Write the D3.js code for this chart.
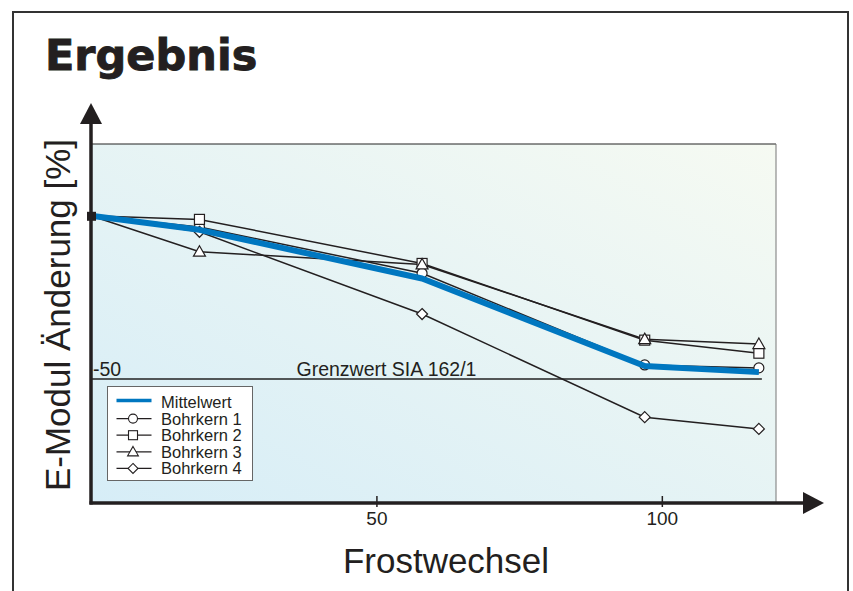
<!DOCTYPE html>
<html>
<head>
<meta charset="utf-8">
<script src="https://cdn.jsdelivr.net/npm/d3@7"></script>
<style>
  body { margin: 0; background: #fff; }
  svg text { fill: #231f20; }
</style>
</head>
<body>
<div id="chart"></div>
<script>
// Frostwechsel (x) and E-Modul change in % per core
const cycles = [0, 19, 58, 97, 117];
const mittelwert = [0, -4.3, -19.2, -46.0, -47.9];
const bohrkern1 = [0, -3.4, -17.6, -45.7, -46.6];
const bohrkern2 = [0, -1.1, -14.6, -38.1, -42.1];
const bohrkern3 = [0, -11.0, -14.9, -37.8, -39.3];
const bohrkern4 = [0, -4.9, -30.1, -61.7, -65.3];
const seriesNames = ["Bohrkern 1", "Bohrkern 2", "Bohrkern 3", "Bohrkern 4"];
const seriesShapes = ["circle", "square", "triangle", "diamond"];
const xTicks = [50, 100];
const grenzwert = -50;

const width = 853, height = 591;
const margin = {top: 144, right: 77, bottom: 88, left: 91};

const svg = d3.select("#chart").append("svg")
    .attr("width", width)
    .attr("height", height)
    .style("font-family", "'Liberation Sans', Arial, sans-serif");

const x = d3.scaleLinear().domain([0, 120]).range([margin.left, width - margin.right]);
const y = d3.scaleLinear().domain([-88, 22]).range([height - margin.bottom, margin.top]);

// outer frame (open at the bottom)
svg.append("path")
    .attr("d", `M13,${height} L13,12 L848,12 L848,${height}`)
    .attr("fill", "none")
    .attr("stroke", "#333")
    .attr("stroke-width", 2);

svg.append("text")
    .attr("x", 45).attr("y", 70)
    .style("font-family", "'DejaVu Sans', sans-serif")
    .style("font-weight", "bold")
    .style("font-size", "43px")
    .attr("stroke", "#231f20")
    .attr("stroke-width", 0.9)
    .text("Ergebnis");

// plot background
const defs = svg.append("defs");
const grad = defs.append("linearGradient")
    .attr("id", "bg").attr("x1", 0).attr("y1", 1).attr("x2", 1).attr("y2", 0);
grad.append("stop").attr("offset", "0%").attr("stop-color", "#d6edf7");
grad.append("stop").attr("offset", "100%").attr("stop-color", "#f6faf2");

svg.append("rect")
    .attr("x", x(0)).attr("y", y(22))
    .attr("width", x(120) - x(0))
    .attr("height", y(-88) - y(22))
    .attr("fill", "url(#bg)");
svg.append("line")
    .attr("x1", x(0)).attr("x2", x(120)).attr("y1", y(22)).attr("y2", y(22))
    .attr("stroke", "#222").attr("stroke-width", 1);
svg.append("line")
    .attr("x1", x(120)).attr("x2", x(120)).attr("y1", y(22)).attr("y2", y(-88))
    .attr("stroke", "#777").attr("stroke-width", 1);

// limit line
svg.append("line")
    .attr("x1", x(0)).attr("x2", x(117) + 3)
    .attr("y1", y(grenzwert)).attr("y2", y(grenzwert))
    .attr("stroke", "#222").attr("stroke-width", 1.5);
svg.append("text")
    .attr("x", x(0) + 2).attr("y", y(grenzwert) - 3)
    .style("font-size", "19.5px")
    .text(grenzwert);
svg.append("text")
    .attr("x", x(36)).attr("y", y(grenzwert) - 3)
    .style("font-size", "19.5px")
    .text("Grenzwert SIA 162/1");

// marker shapes
function marker(g, shape, cx, cy, s) {
  s = s || 1;
  if (shape === "circle") {
    g.append("circle").attr("cx", cx).attr("cy", cy).attr("r", 5 * s);
  } else if (shape === "square") {
    g.append("rect").attr("x", cx - 5 * s).attr("y", cy - 5 * s)
      .attr("width", 10 * s).attr("height", 10 * s);
  } else if (shape === "triangle") {
    g.append("path").attr("d",
      `M${cx},${cy - 6 * s} L${cx + 6 * s},${cy + 4.5 * s} L${cx - 6 * s},${cy + 4.5 * s} Z`);
  } else {
    g.append("path").attr("d",
      `M${cx},${cy - 5.5 * s} L${cx + 5.5 * s},${cy} L${cx},${cy + 5.5 * s} L${cx - 5.5 * s},${cy} Z`);
  }
}

const line = d3.line().x((d, i) => x(cycles[i])).y(d => y(d));
const cores = [bohrkern1, bohrkern2, bohrkern3, bohrkern4];

const gCores = svg.append("g");
cores.forEach(vals => {
  gCores.append("path")
    .datum(vals)
    .attr("d", line)
    .attr("fill", "none")
    .attr("stroke", "#231f20")
    .attr("stroke-width", 1.5);
});
const gMarks = svg.append("g")
    .attr("fill", "#fff").attr("stroke", "#231f20").attr("stroke-width", 1.2);
cores.forEach((vals, k) => {
  vals.forEach((v, i) => {
    if (i > 0) marker(gMarks, seriesShapes[k], x(cycles[i]), y(v));
  });
});

// mean line on top
svg.append("path")
    .datum(mittelwert)
    .attr("d", line)
    .attr("fill", "none")
    .attr("stroke", "#0077c0")
    .attr("stroke-width", 6)
    .attr("stroke-linejoin", "round");

// overlapping start markers
svg.append("rect")
    .attr("x", x(0) - 4).attr("y", y(0) - 4)
    .attr("width", 9).attr("height", 9)
    .attr("fill", "#231f20");

// axes with arrows
const x0 = x(0), yb = y(-88);
svg.append("line")
    .attr("x1", x0).attr("x2", x0).attr("y1", yb + 1.5).attr("y2", 120)
    .attr("stroke", "#231f20").attr("stroke-width", 3.5);
svg.append("path")
    .attr("d", `M${x0},103 L${x0 + 11},124 L${x0 - 11},124 Z`)
    .attr("fill", "#231f20");
svg.append("line")
    .attr("x1", x0 - 1.5).attr("x2", 808).attr("y1", yb).attr("y2", yb)
    .attr("stroke", "#231f20").attr("stroke-width", 3.5);
svg.append("path")
    .attr("d", `M824,${yb} L803,${yb - 11} L803,${yb + 11} Z`)
    .attr("fill", "#231f20");

const xAxis = svg.append("g")
    .attr("transform", `translate(0,${yb})`)
    .call(d3.axisBottom(x).tickValues(xTicks).tickSize(6).tickSizeOuter(0));
xAxis.select(".domain").remove();
xAxis.selectAll(".tick line")
    .attr("y1", -7).attr("y2", 4)
    .attr("stroke", "#231f20").attr("stroke-width", 1.5);
xAxis.selectAll(".tick text")
    .attr("y", 22).attr("dy", 0)
    .style("font-family", "'Liberation Sans', Arial, sans-serif")
    .style("font-size", "19px")
    .attr("fill", "#231f20");

svg.append("text")
    .attr("x", 446).attr("y", 573)
    .attr("text-anchor", "middle")
    .style("font-size", "35px")
    .text("Frostwechsel");

svg.append("text")
    .attr("transform", "translate(70,315) rotate(-90)")
    .attr("text-anchor", "middle")
    .style("font-size", "35px")
    .text("E-Modul Änderung [%]");

// legend
const lg = svg.append("g").attr("transform", "translate(107.5,386.5)");
lg.append("rect")
    .attr("width", 145).attr("height", 94)
    .attr("fill", "#fff").attr("stroke", "#666").attr("stroke-width", 1);
const rowY = d => 21.5 + d * 16.6;
lg.append("line")
    .attr("x1", 9).attr("x2", 44).attr("y1", rowY(0) - 7.5).attr("y2", rowY(0) - 7.5)
    .attr("stroke", "#0077c0").attr("stroke-width", 3.5);
lg.append("text").attr("x", 53.5).attr("y", rowY(0))
    .style("font-size", "16.5px").text("Mittelwert");
seriesNames.forEach((name, k) => {
  const yy = rowY(k + 1);
  lg.append("line")
    .attr("x1", 9).attr("x2", 44).attr("y1", yy - 6).attr("y2", yy - 6)
    .attr("stroke", "#231f20").attr("stroke-width", 1.2);
  const gm = lg.append("g").attr("fill", "#fff").attr("stroke", "#231f20").attr("stroke-width", 1.1);
  marker(gm, seriesShapes[k], 25.5, yy - 6, 0.9);
  lg.append("text").attr("x", 53.5).attr("y", yy)
    .style("font-size", "16.5px").text(name);
});
</script>
</body>
</html>
